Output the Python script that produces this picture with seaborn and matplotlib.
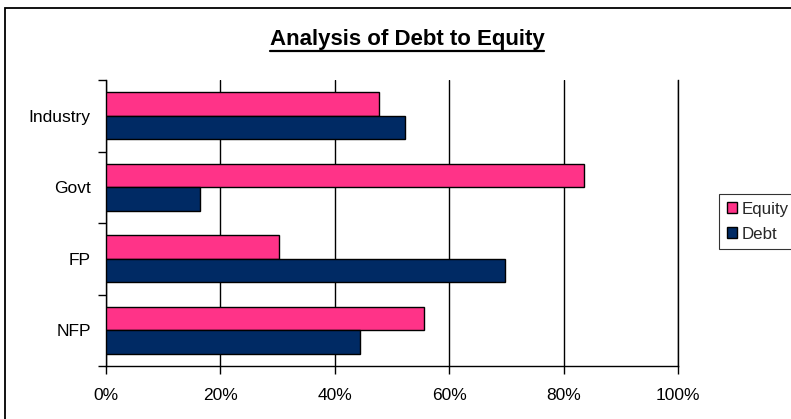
import matplotlib
matplotlib.use("Agg")
import matplotlib.pyplot as plt
import seaborn as sns
import pandas as pd
from matplotlib.patches import Rectangle
from matplotlib.lines import Line2D
from matplotlib.ticker import FixedLocator, PercentFormatter

categories = ["Industry", "Govt", "FP", "NFP"]
series_names = ["Equity", "Debt"]
equity = [47.7, 83.6, 30.2, 55.6]
debt = [52.3, 16.4, 69.8, 44.4]
x_ticks = [0, 20, 40, 60, 80, 100]
colors = {"Equity": "#FF3388", "Debt": "#002A64"}

sns.set_theme(style="white")
plt.rcParams["font.family"] = ["Liberation Sans", "DejaVu Sans"]

rows = []
for c, e, d in zip(categories, equity, debt):
    rows.append({"cat": c, "series": "Equity", "value": e})
    rows.append({"cat": c, "series": "Debt", "value": d})
df = pd.DataFrame(rows)

W, H = 791, 419
fig = plt.figure(figsize=(W / 100, H / 100), dpi=100)
fig.patch.set_facecolor("white")
ax = fig.add_axes([106 / W, 1 - 366 / H, (678 - 106) / W, (366 - 80) / H])

sns.barplot(data=df, y="cat", x="value", hue="series", order=categories,
            hue_order=series_names, palette=colors, orient="h",
            width=0.66, edgecolor="black", linewidth=1.0, saturation=1,
            ax=ax, legend=False, zorder=3)

ax.set_xlim(0, 100)
ax.set_ylim(len(categories) - 0.5, -0.5)
ax.xaxis.set_major_locator(FixedLocator(x_ticks))
ax.xaxis.set_major_formatter(PercentFormatter(decimals=0))
ax.grid(axis="x", color="black", linewidth=1.0, zorder=0)
ax.grid(axis="y", visible=False)
ax.set_axisbelow(True)
ax.set_xlabel("")
ax.set_ylabel("")
ax.spines["top"].set_visible(False)
for s in ["left", "bottom", "right"]:
    ax.spines[s].set_visible(True)
    ax.spines[s].set_color("black")
    ax.spines[s].set_linewidth(1.0)

ax.set_yticks(range(len(categories)))
ax.set_yticklabels(categories)
ax.set_yticks([i - 0.5 for i in range(len(categories) + 1)], minor=True)
ax.tick_params(axis="y", which="major", length=0, pad=11, labelsize=12.5, labelcolor="black")
ax.tick_params(axis="y", which="minor", length=6, width=1, color="black", direction="out",
               left=True, right=False)
ax.tick_params(axis="x", which="major", length=6, width=1, color="black", direction="out",
               bottom=True, pad=9.5, labelsize=12.5, labelcolor="black")

# Legend
handles = [Rectangle((0, 0), 1, 1, facecolor=colors[n], edgecolor="black", linewidth=1.0)
           for n in series_names]
leg = fig.legend(handles, series_names, loc="upper left",
                 bbox_to_anchor=(719 / W, 1 - 194 / H), bbox_transform=fig.transFigure,
                 frameon=True, fancybox=False, fontsize=12.2, handlelength=0.6,
                 handleheight=0.6, handletextpad=0.3, labelspacing=0.6,
                 borderpad=0.45, borderaxespad=0)
leg.get_frame().set_edgecolor("black")
leg.get_frame().set_linewidth(0.8)

# Title with underline
title = fig.text(407 / W, 1 - 40 / H, "Analysis of Debt to Equity", ha="center", va="center",
                 fontsize=16, fontweight="bold", color="black")
fig.canvas.draw()
bb = title.get_window_extent(renderer=fig.canvas.get_renderer())
uy = (bb.y0 - 1) / H
fig.add_artist(Line2D([bb.x0 / W, bb.x1 / W], [uy, uy], transform=fig.transFigure,
                      color="black", linewidth=1.6))

# Outer chart border (clipped at right and bottom)
fig.add_artist(Rectangle((5 / W, -0.1), 1.2, 1.1 - 8 / H, transform=fig.transFigure,
                         fill=False, edgecolor="black", linewidth=1.3, clip_on=False))

fig.savefig("out.png", dpi=100)
